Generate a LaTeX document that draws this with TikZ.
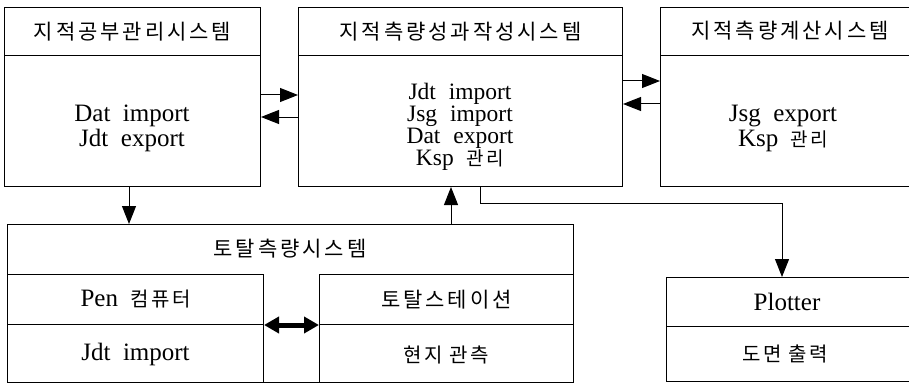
\documentclass[tikz,border=0pt]{standalone}
\usepackage{fontspec}
\setmainfont{Liberation Serif}
\newfontfamily\kr{Noto Sans CJK KR}[LetterSpace=14]
\newfontfamily\krb{Noto Sans CJK KR}[LetterSpace=12]
\usetikzlibrary{arrows.meta}
\DeclareRobustCommand\bdfont{\fontsize{25}{25}\selectfont\spaceskip=0.5em\relax}
\DeclareRobustCommand\bdfontb{\fontsize{23.5}{22}\selectfont\spaceskip=0.55em\relax}
\DeclareRobustCommand\hdfont{\kr\fontsize{21}{22}\selectfont}
\DeclareRobustCommand\kofont{\krb\fontsize{19}{22}\selectfont}
\DeclareRobustCommand\kofontb{\krb\fontsize{20}{22}\selectfont}
\tikzset{
  x=1pt, y=-1pt,
  cell/.style={draw=black, line width=1pt, inner sep=0pt, anchor=north west},
  hd/.style={font=\hdfont, inner sep=0pt},
  bd/.style={font=\bdfont, align=center, inner sep=0pt},
  arr/.style={line width=1pt, -{Triangle[length=18pt,width=14pt]}},
  ln/.style={line width=1pt}
}
\newcommand\ko[1]{{\kofont #1}}
\newcommand\kob[1]{{\kofontb #1}}
\begin{document}
\begin{tikzpicture}
\useasboundingbox (0,0) rectangle (909,385);
\clip (0,0) rectangle (909,385);
% box A
\node[cell, minimum width=256pt, minimum height=48pt] (Ah) at (4,7) {};
\node[cell, minimum width=256pt, minimum height=131pt] (Ab) at (4,55) {};
\node[hd] (At) at (Ah.center) {지적공부관리시스템};
\node[bd] (Ax) at (132,128) {Dat import\\Jdt export};
% box B
\node[cell, minimum width=324pt, minimum height=48pt] (Bh) at (298,7) {};
\node[cell, minimum width=324pt, minimum height=131pt] (Bb) at (298,55) {};
\node[hd] (Bt) at (Bh.center) {지적측량성과작성시스템};
\node[bd, font=\bdfontb] (Bx) at (460,127) {Jdt import\\Jsg import\\Dat export\\Ksp \ko{관리}};
% box C
\node[cell, minimum width=260pt, minimum height=48pt] (Ch) at (660,7) {};
\node[cell, minimum width=260pt, minimum height=131pt] (Cb) at (660,55) {};
\node[hd] (Ct) at (790,31) {지적측량계산시스템};
\node[bd] (Cx) at (783,128) {Jsg export\\Ksp \ko{관리}};
% total system
\node[cell, minimum width=566pt, minimum height=158pt] (T) at (7,224) {};
\node[hd] (Tt) at (290,249) {토탈측량시스템};
\node[cell, minimum width=256pt, minimum height=50pt] (Ph) at (7,274) {};
\node[cell, minimum width=256pt, minimum height=58pt] (Pb) at (7,324) {};
\node[bd] (Pt) at (Ph.center) {Pen \kob{컴퓨터}};
\node[bd] (Px) at ([yshift=-1pt]Pb.center) {Jdt import};
\node[cell, minimum width=254pt, minimum height=50pt] (Sh) at (319,274) {};
\node[cell, minimum width=254pt, minimum height=58pt] (Sb) at (319,324) {};
\node[hd] (St) at (Sh.center) {토탈스테이션};
\node[hd, font=\kofontb] (Sx) at ([yshift=-1pt]Sb.center) {현지 관측};
% plotter
\node[cell, minimum width=254pt, minimum height=49pt] (Lh) at (666,277) {};
\node[cell, minimum width=254pt, minimum height=55pt] (Lb) at (666,326) {};
\node[bd] (Lt) at (787,302) {Plotter};
\node[hd, font=\kofontb] (Lx) at (785,354) {도면 출력};
% connectors
\coordinate (y95) at (0,95);
\coordinate (y117) at (0,117);
\coordinate (y81) at (0,81);
\coordinate (y104) at (0,104);
\coordinate (x129) at (129,0);
\coordinate (x451) at (451,0);
\coordinate (p1) at (480,203);
\coordinate (p2) at (782,203);
\draw[arr] (Ab.east |- y95) -- (Bb.west |- y95);
\draw[arr] (Bb.west |- y117) -- (Ab.east |- y117);
\draw[arr] (Bb.east |- y81) -- (Cb.west |- y81);
\draw[arr] (Cb.west |- y104) -- (Bb.east |- y104);
\draw[arr] (x129 |- Ab.south) -- (x129 |- T.north);
\draw[arr] (x451 |- T.north) -- (x451 |- Bb.south);
\draw[ln] (p1 |- Bb.south) -- (p1) -- (p2);
\draw[arr] (p2) -- (p2 |- Lh.north);
\draw[line width=5pt, {Triangle[length=15pt,width=16pt]}-{Triangle[length=15pt,width=16pt]}] (Ph.south east) -- (Sh.south west);
\end{tikzpicture}
\end{document}
